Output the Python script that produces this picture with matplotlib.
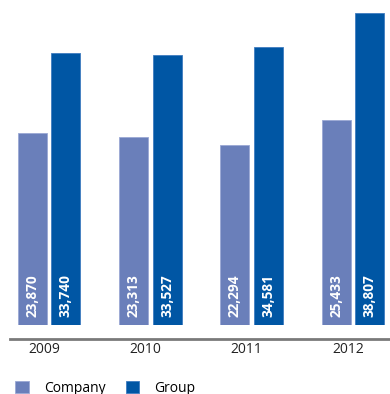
import numpy as np
import matplotlib.pyplot as plt

plt.rcParams['font.family'] = ['Open Sans', 'DejaVu Sans']

years = ['2009', '2010', '2011', '2012']
company = [23870, 23313, 22294, 25433]
group = [33740, 33527, 34581, 38807]

company_color = '#6a7fba'
group_color = '#0056a4'

fig = plt.figure(figsize=(3.9, 3.94), dpi=100)
# axes covers full width; bar baseline sits 69 px above the bottom edge
ax = fig.add_axes([0, 69 / 394, 1, 322.1 / 394])

x = np.arange(len(years))
width = 0.286
offset = 0.165

b1 = ax.bar(x - offset, company, width, color=company_color,
            edgecolor='#9aa8d4', linewidth=0.6, label='Company')
b2 = ax.bar(x + offset, group, width, color=group_color,
            edgecolor='#3f7cc0', linewidth=0.6, label='Group')

for bars, vals in [(b1, company), (b2, group)]:
    for bar, v in zip(bars, vals):
        ax.text(bar.get_x() + bar.get_width() / 2, 1000, f'{v:,}',
                rotation=90, ha='center', va='bottom', color='white',
                fontsize=9.8, fontweight='bold')

ax.set_xlim(-0.4837, 3.366)
ax.set_ylim(0, 40000)

for s in ['left', 'right', 'top']:
    ax.spines[s].set_visible(False)
ax.spines['bottom'].set_position(('outward', 10))
ax.spines['bottom'].set_color('#7a7a7a')
ax.spines['bottom'].set_linewidth(2)
ax.spines['bottom'].set_bounds(-0.385, 3.366)

ax.set_yticks([])
ax.set_xticks(x - 0.05)
ax.set_xticklabels(years, fontsize=10, color='#222222')
ax.tick_params(axis='x', length=0, pad=2)

fig.legend(handles=[b1, b2], loc='center left',
           bbox_to_anchor=(15 / 390, 6 / 394), ncol=2, frameon=False,
           fontsize=10, handlelength=1.0, handleheight=0.93,
           handletextpad=1.08, columnspacing=1.44, borderpad=0,
           borderaxespad=0)

fig.savefig('out.png', dpi=100)
